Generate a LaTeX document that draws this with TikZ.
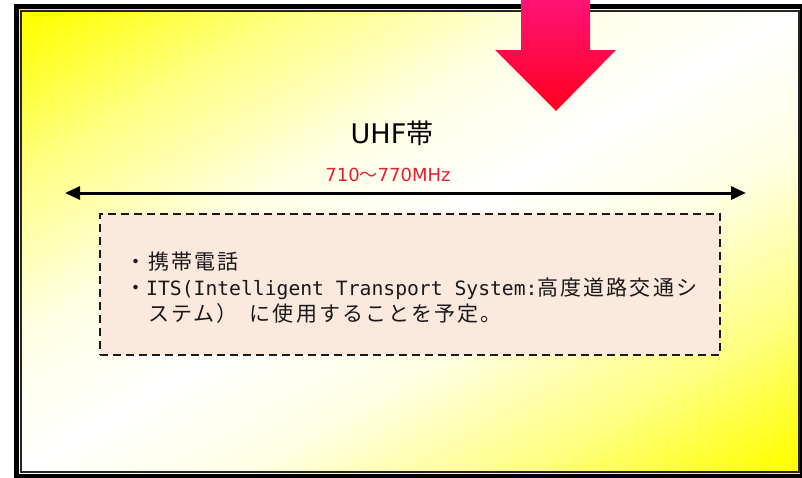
\documentclass[tikz,border=0pt]{standalone}
\usepackage{fontspec}
\usetikzlibrary{arrows.meta}
\newfontfamily\jp{Noto Sans CJK JP}
\newfontfamily\jpsp[LetterSpace=10]{Noto Sans CJK JP}
\newfontfamily\mono{DejaVu Sans Mono}
\newfontfamily\dv{DejaVu Sans}
\definecolor{peach}{RGB}{252,233,222}
\definecolor{freqred}{RGB}{230,30,45}
\definecolor{arrtop}{RGB}{255,20,120}
\definecolor{arrbot}{RGB}{255,0,30}
\definecolor{framey}{RGB}{255,255,0}
\definecolor{midy}{RGB}{255,255,130}
\definecolor{palew}{RGB}{255,255,228}
\pgfdeclarehorizontalshading{ywy}{100bp}{color(0bp)=(framey); color(17bp)=(framey); color(28bp)=(midy); color(40bp)=(palew); color(50bp)=(white); color(60bp)=(palew); color(72bp)=(midy); color(83bp)=(framey); color(100bp)=(framey)}
\tikzset{
  bodytext/.style={anchor=base west, inner sep=0pt, font=\fontsize{21}{26}\selectfont, text=black!90},
  dashbox/.style={draw=black!90, line width=2.2pt, dash pattern=on 8pt off 5pt, fill=peach, inner sep=0pt},
  dblarrow/.style={line width=3pt, {Triangle[length=15pt,width=13pt]}-{Triangle[length=15pt,width=13pt]}},
}
\newcommand{\lat}[1]{{\fontsize{19.7}{26}\selectfont\mono #1}}
\begin{document}
\begin{tikzpicture}[x=1pt,y=-1pt]
\useasboundingbox (0,0) rectangle (802,477);
% background frame
\shade[shading=ywy, shading angle=-59.4] (16.5,6.5) rectangle (802.5,476.5);
\draw[line width=5pt, black] (16.5,6.5) rectangle (802.5,476.5);
\draw[line width=2pt, black!85] (21,11) rectangle (798.5,471.5);
% big arrow
\shade[top color=arrtop, bottom color=arrbot] (521,-3) -- (590,-3) -- (590,50) -- (616,50) -- (556,111) -- (495,50) -- (521,50) -- cycle;
% titles
\node[anchor=base, inner sep=0pt, font=\fontsize{27}{30}\selectfont] (uhf) at (392,143) {{\dv UHF}{\jp 帯}};
\node[anchor=base, inner sep=0pt, font=\fontsize{18}{20}\selectfont, text=freqred] (freq) at (388,181) {{\dv 710}{\jp ～}{\dv 770MHz}};
% double arrow
\coordinate (L) at (65,193);
\coordinate (R) at (746,193);
\draw[dblarrow] (L) -- (R);
% dashed box
\node[dashbox, minimum width=620pt, minimum height=141pt] (box) at (410,284.5) {};
\node[bodytext] (l1) at (125,269) {{\jpsp ・携帯電話}};
\node[bodytext] (l2) at (125,295) {{\jpsp ・}\lat{ITS(Intelligent Transport System:}{\jpsp 高度道路交通シ}};
\node[bodytext] (l3) at (125,321) {{\jpsp 　ステム）}\lat{\ }{\jpsp に使用することを予定。}};
\end{tikzpicture}
\end{document}
